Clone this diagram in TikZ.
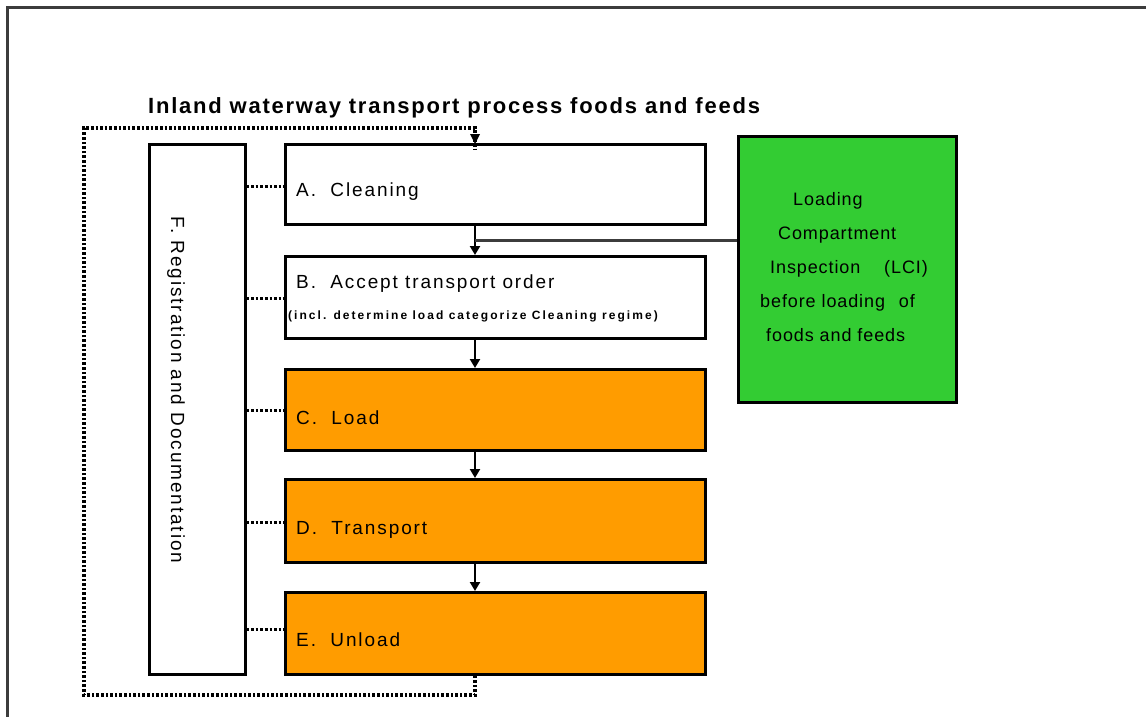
\documentclass[tikz,border=0pt]{standalone}
\usepackage{fontspec}
\setmainfont{Liberation Sans}
\usetikzlibrary{arrows.meta}
\definecolor{boxorange}{RGB}{255,156,0}
\definecolor{boxgreen}{RGB}{51,204,51}
\definecolor{framegray}{RGB}{60,60,60}
\begin{document}
\begin{tikzpicture}[x=1pt,y=-1pt,
  proc/.style={draw=black,line width=2.5pt,minimum width=420pt,anchor=north west,inner sep=0pt},
  lab/.style={anchor=west,inner sep=0pt,font=\fontsize{19}{22}\selectfont\addfontfeature{LetterSpace=10}},
  flow/.style={line width=2.6pt,-{Triangle[length=9pt,width=10pt]}},
  dotline/.style={line width=3.6pt,dash pattern=on 2.6pt off 2pt},
  fdot/.style={line width=3pt,dash pattern=on 2.6pt off 2pt}]
\useasboundingbox (0,0) rectangle (1146,717);
% frame
\draw[framegray,line width=3pt] (7,720) -- (7,8) -- (1150,8);
% title
\node[anchor=west,inner sep=0pt,font=\fontsize{22}{26}\bfseries\selectfont\addfontfeature{LetterSpace=8}] (title) at (148,108) {Inland waterway transport process foods and feeds};
% F box
\node[draw=black,line width=2.5pt,anchor=north west,minimum width=96pt,minimum height=530pt,inner sep=0pt] (F) at (148,143) {};
\node[rotate=-90,inner sep=0pt,font=\fontsize{19}{22}\selectfont\addfontfeature{LetterSpace=10}] (Ft) at (176,390) {F. Registration and Documentation};
% process boxes
\node[proc,fill=white,minimum height=80pt] (A) at (284,143) {};
\node[proc,fill=white,minimum height=82pt] (B) at (284,255) {};
\node[proc,fill=boxorange,minimum height=81pt] (C) at (284,368) {};
\node[proc,fill=boxorange,minimum height=83pt] (D) at (284,478) {};
\node[proc,fill=boxorange,minimum height=82pt] (E) at (284,591) {};
\node[lab] (At) at (296,192) {A.\ \ Cleaning};
\node[lab] (Bt) at (296,284) {B.\ \ Accept transport order};
\node[anchor=west,inner sep=0pt,font=\fontsize{12}{14}\bfseries\selectfont\addfontfeature{LetterSpace=17}] (Bs) at (288,316) {(incl. determine load categorize Cleaning regime)};
\node[lab] (Ct) at (296,418) {C.\ \ Load};
\node[lab] (Dt) at (296,530) {D.\ \ Transport};
\node[lab] (Et) at (296,640) {E.\ \ Unload};
% green box
\node[draw=black,line width=2.5pt,fill=boxgreen,anchor=north west,minimum width=218pt,minimum height=266pt,inner sep=0pt] (G) at (737,135) {};
\node[anchor=north west,inner sep=0pt,align=left,font=\fontsize{18}{34}\selectfont\addfontfeature{LetterSpace=5}] (Gt) at (760,192) {\hspace*{33pt}Loading\\\hspace*{18pt}Compartment\\\hspace*{10pt}Inspection\hspace{18pt} (LCI)\\before loading\hspace{8pt} of\\\hspace*{6pt}foods and feeds};
% flow arrows
\coordinate (AB) at (475,240);
\draw[flow] (A.south -| AB) -- (B.north -| AB);
\draw[flow] (B.south -| AB) -- (C.north -| AB);
\draw[flow] (C.south -| AB) -- (D.north -| AB);
\draw[flow] (D.south -| AB) -- (E.north -| AB);
\draw[line width=3pt,framegray] (AB) -- (G.west |- AB);
% dotted loop
\coordinate (L1) at (475,695);
\coordinate (L2) at (84,695);
\coordinate (L3) at (84,128);
\coordinate (L4) at (475,128);
\draw[dotline] (E.south -| L1) -- (L1) -- (L2) -- (L3) -- (L4) -- ([yshift=-6pt]A.north -| L4);
\fill ([yshift=-1pt]A.north -| L4) -- ++(-5,-10) -- ++(10,0) -- cycle;
% F connectors
\foreach \yy in {186,298,410,522,629} {
  \draw[fdot] (F.east |- 0,\yy) -- (A.west |- 0,\yy);
}
\end{tikzpicture}
\end{document}
